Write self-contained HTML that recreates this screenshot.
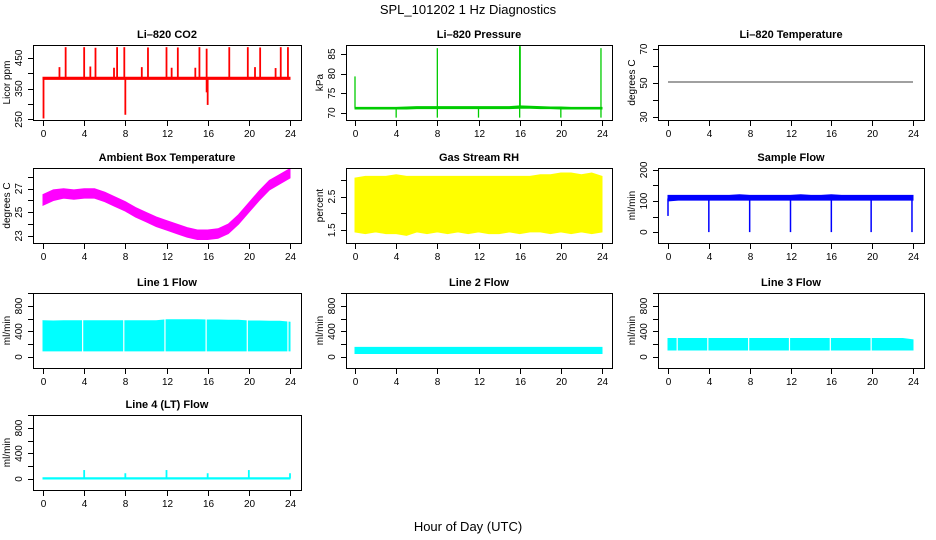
<!DOCTYPE html>
<html><head><meta charset="utf-8"><style>
html,body{margin:0;padding:0;background:#fff}
svg{display:block;font-family:"Liberation Sans",Arial,sans-serif}
</style></head><body>
<svg id="chart" width="936" height="540" viewBox="0 0 936 540">
<text x="468" y="14" font-size="13" text-anchor="middle">SPL_101202  1 Hz Diagnostics</text>
<text x="468" y="531" font-size="13" text-anchor="middle">Hour of Day (UTC)</text>
</svg>
<script>
// ---- data ----
const xTicks = [0,4,8,12,16,20,24];
const hours = [0,1,2,3,4,5,6,7,8,9,10,11,12,13,14,15,16,17,18,19,20,21,22,23,24];
// CO2
const co2Lo = [380,380,380,380,380,380,380,380,380,380,380,380,380,380,380,380,380,380,380,380,380,380,380,380,380];
const co2Hi = [387,387,387,387,387,387,387,387,387,387,387,387,387,387,387,387,387,387,387,387,387,387,387,387,387];
const co2SpikeT = [2.2,4.0,5.1,7.2,7.9,10.2,12.0,13.1,15.2,15.9,18.1,19.9,21.1,23.1,23.8,1.6,4.6,6.9,9.6,12.5,14.8,20.6,22.6,0.05,8.0,16.0,15.9];
const co2SpikeV = [485,485,483,485,485,484,485,484,485,480,485,485,484,485,485,420,422,418,420,418,418,420,417,253,265,297,338];
// Pressure
const presLo = [71.0,71.0,71.0,71.0,71.0,71.0,71.1,71.1,71.1,71.1,71.1,71.1,71.1,71.1,71.1,71.1,71.2,71.2,71.1,71.1,71.0,71.0,71.0,71.0,71.0];
const presHi = [71.4,71.4,71.4,71.4,71.4,71.5,71.6,71.6,71.6,71.6,71.6,71.6,71.6,71.6,71.6,71.6,71.8,71.7,71.6,71.5,71.5,71.4,71.4,71.4,71.4];
const presSpikeT = [0.0,8.0,16.0,16.05,23.9,4.0,8.0,12.0,16.0,20.0,23.9];
const presSpikeV = [79.3,86.5,87.0,87.0,86.5,68.8,68.8,68.8,68.8,68.8,68.8];
// Li-820 temperature
const tempVal = [50.6,50.6,50.6,50.6,50.6,50.6,50.6,50.6,50.6,50.6,50.6,50.6,50.6,50.6,50.6,50.6,50.6,50.6,50.6,50.6,50.6,50.6,50.6,50.6,50.6];
// Ambient box temperature
const ambLo = [25.6,26.0,26.2,26.1,26.2,26.2,25.9,25.5,25.1,24.6,24.2,23.8,23.5,23.2,22.9,22.7,22.7,22.8,23.2,24.0,25.0,26.0,26.9,27.4,27.9];
const ambHi = [26.5,26.9,27.0,26.9,27.0,27.0,26.7,26.3,25.9,25.4,25.0,24.6,24.3,24.0,23.7,23.5,23.5,23.6,24.0,24.8,25.8,26.8,27.7,28.2,28.7];
// Gas stream RH
const rhLo = [1.45,1.40,1.45,1.40,1.40,1.35,1.45,1.40,1.45,1.40,1.45,1.40,1.45,1.40,1.40,1.45,1.40,1.45,1.45,1.40,1.45,1.40,1.45,1.40,1.45];
const rhHi = [3.05,3.10,3.10,3.10,3.15,3.10,3.10,3.10,3.10,3.10,3.10,3.10,3.10,3.10,3.10,3.10,3.10,3.10,3.15,3.15,3.20,3.20,3.15,3.20,3.10];
// Sample flow
const sfLo = [100,103,103,103,103,103,103,103,103,103,103,103,103,103,103,103,103,103,103,103,103,103,103,103,103];
const sfHi = [118,118,118,118,118,118,118,120,118,118,118,118,118,120,118,118,120,118,118,118,118,118,118,118,118];
const sfDipT = [0.0,4.0,8.0,12.0,16.0,19.9,23.9];
const sfDipV = [52,0,0,0,0,0,0];
// Line flows
const l1Lo = [95,95,95,95,95,95,95,95,95,95,95,95,95,95,95,95,95,95,95,95,95,95,95,95,95];
const l1Hi = [570,565,570,570,570,570,570,570,570,570,570,570,585,585,585,585,580,580,575,575,565,565,560,560,545];
const l1GapT = [3.85,7.85,11.85,15.85,19.85,23.8];
const l2Lo = [55,55,55,55,55,55,55,55,55,55,55,55,55,55,55,55,55,55,55,55,55,55,55,55,55];
const l2Hi = [150,150,150,150,150,150,150,150,150,150,150,150,150,150,150,150,150,150,150,150,150,150,150,150,150];
const l3Lo = [110,110,110,110,110,110,110,110,110,110,110,110,110,110,110,110,110,110,110,110,110,110,110,110,110];
const l3Hi = [290,290,290,290,290,290,290,290,290,290,290,290,290,290,290,290,290,290,290,290,290,290,290,290,270];
const l3GapT = [0.9,3.9,7.9,11.9,15.9,19.9];
const l4Lo = [0,0,0,0,0,0,0,0,0,0,0,0,0,0,0,0,0,0,0,0,0,0,0,0,0];
const l4Hi = [20,20,20,20,20,20,20,20,20,20,20,20,20,20,20,20,20,20,20,20,20,20,20,20,20];
const l4SpikeT = [4,8,12,16,20,24];
const l4SpikeV = [140,90,140,90,140,90];

// ---- layout ----
const NS = "http://www.w3.org/2000/svg";
const svg = document.getElementById('chart');
const cols = [{bx:33,bw:268,x0:43,x24:290},{bx:346,bw:266,x0:355,x24:602},{bx:658,bw:266,x0:668,x24:913}];
const rows = [45,168,293,415];
const BH = 75;
function mk(tag, attrs, parent){const e=document.createElementNS(NS,tag);for(const k in attrs)e.setAttribute(k,attrs[k]);(parent||svg).appendChild(e);return e;}

function panel(p){
  const c=cols[p.col], top=rows[p.row];
  const g=mk('g',{});
  
  
  const X=t=>c.x0+(c.x24-c.x0)*t/24;
  const Y=v=>top+BH-(v-p.ymin)/(p.ymax-p.ymin)*BH;
  p.X=X;p.Y=Y;p.g=g;
  const cl='clip'+p.name;
  const cp=mk('clipPath',{id:cl},g);mk('rect',{x:c.bx,y:top,width:c.bw,height:BH},cp);
  const dg=mk('g',{'clip-path':'url(#'+cl+')'},g);
  
  
  p.dg=dg;
  const title=mk('text',{x:c.bx+c.bw/2,y:top-7,'font-size':11,'font-weight':'bold','text-anchor':'middle'},g);
  title.textContent=p.title;
  
  
  const box=mk('rect',{x:c.bx+0.5,y:top+0.5,width:c.bw,height:BH,fill:'none',stroke:'#000','stroke-width':1},g);
  
  
  xTicks.forEach(t=>{
    const x=Math.round(X(t))+0.5;
    mk('line',{x1:x,x2:x,y1:top+BH,y2:top+BH+6,stroke:'#000'},g);
    const tx=mk('text',{x:x,y:top+BH+17,'font-size':10,'text-anchor':'middle'},g);
    tx.textContent=t;
    
    
  });
  p.yticks.forEach(v=>{
    const y=Math.round(Y(v))+0.5;
    mk('line',{x1:c.bx-5,x2:c.bx,y1:y,y2:y,stroke:'#000'},g);
  });
  p.ylabels.forEach(v=>{
    const y=Y(v);const lx=c.bx-11;
    const tx=mk('text',{x:lx,y:y,'font-size':10,'text-anchor':'middle',transform:'rotate(-90 '+lx+' '+y+')'},g);
    tx.textContent=v;
    
    
  });
  const ly=top+BH/2, lx=c.bx-23;
  const yt=mk('text',{x:lx,y:ly,'font-size':10,'text-anchor':'middle',transform:'rotate(-90 '+lx+' '+ly+')'},g);
  yt.textContent=p.ytitle;
  
  
  return p;
}
function band(p,lo,hi,color){
  let d='M'+hours.map((h,i)=>p.X(h).toFixed(1)+','+p.Y(hi[i]).toFixed(1)).join('L');
  d+='L'+hours.slice().reverse().map((h,j)=>{const i=hours.length-1-j;return p.X(h).toFixed(1)+','+p.Y(lo[i]).toFixed(1);}).join('L')+'Z';
  const e=mk('path',{d:d,fill:color,stroke:color,'stroke-width':1},p.dg);
  
  
}
function spikes(p,ts,vs,base,color,w){
  ts.forEach((t,i)=>{
    const x=p.X(t);
    const e=mk('line',{x1:x,x2:x,y1:p.Y(base),y2:p.Y(vs[i]),stroke:color,'stroke-width':w||1.5},p.dg);
    
    
  });
}
function gaps(p,ts,color){
  ts.forEach(t=>{
    const x=p.X(t);
    const e=mk('line',{x1:x,x2:x,y1:p.Y(p.ymax),y2:p.Y(p.ymin),stroke:color,'stroke-width':1.2},p.dg);
    
    
  });
}
const lineTicks=[0,200,400,600,800,1000], lineLabels=[0,400,800];

const co2=panel({name:'co2-panel',title:'Li\u2013820 CO2',ytitle:'Licor ppm',col:0,row:0,ymin:248,ymax:492,yticks:[250,300,350,400,450],ylabels:[250,350,450]});
band(co2,co2Lo,co2Hi,'#ff0000');spikes(co2,co2SpikeT,co2SpikeV,383,'#ff0000',1.8);

const pres=panel({name:'pressure-panel',title:'Li\u2013820 Pressure',ytitle:'kPa',col:1,row:0,ymin:68.2,ymax:87.3,yticks:[70,75,80,85],ylabels:[70,75,80,85]});
band(pres,presLo,presHi,'#00cc00');spikes(pres,presSpikeT,presSpikeV,71.3,'#00cc00',1.3);

const temp=panel({name:'li820-temperature-panel',title:'Li\u2013820 Temperature',ytitle:'degrees C',col:2,row:0,ymin:28.2,ymax:72.4,yticks:[30,40,50,60,70],ylabels:[30,50,70]});
(function(){const d='M'+hours.map((h,i)=>temp.X(h).toFixed(1)+','+temp.Y(tempVal[i]).toFixed(1)).join('L');
const e=mk('path',{d:d,fill:'none',stroke:'#000','stroke-width':0.8},temp.dg);

})();

const amb=panel({name:'ambient-temperature-panel',title:'Ambient Box Temperature',ytitle:'degrees C',col:0,row:1,ymin:22.4,ymax:28.75,yticks:[23,24,25,26,27,28],ylabels:[23,25,27]});
band(amb,ambLo,ambHi,'#ff00ff');

const rh=panel({name:'rh-panel',title:'Gas Stream RH',ytitle:'percent',col:1,row:1,ymin:1.12,ymax:3.35,yticks:[1.5,2,2.5,3],ylabels:[1.5,2.5]});
band(rh,rhLo,rhHi,'#ffff00');

const sf=panel({name:'sample-flow-panel',title:'Sample Flow',ytitle:'ml/min',col:2,row:1,ymin:-35,ymax:206,yticks:[0,50,100,150,200],ylabels:[0,100,200]});
band(sf,sfLo,sfHi,'#0000ff');spikes(sf,sfDipT,sfDipV,108,'#0000ff',1.5);

const l1=panel({name:'line1-flow-panel',title:'Line 1 Flow',ytitle:'ml/min',col:0,row:2,ymin:-173,ymax:1004,yticks:lineTicks,ylabels:lineLabels});
band(l1,l1Lo,l1Hi,'#00ffff');gaps(l1,l1GapT,'#ffffff');

const l2=panel({name:'line2-flow-panel',title:'Line 2 Flow',ytitle:'ml/min',col:1,row:2,ymin:-173,ymax:1004,yticks:lineTicks,ylabels:lineLabels});
band(l2,l2Lo,l2Hi,'#00ffff');

const l3=panel({name:'line3-flow-panel',title:'Line 3 Flow',ytitle:'ml/min',col:2,row:2,ymin:-173,ymax:1004,yticks:lineTicks,ylabels:lineLabels});
band(l3,l3Lo,l3Hi,'#00ffff');gaps(l3,l3GapT,'#ffffff');

const l4=panel({name:'line4-flow-panel',title:'Line 4 (LT) Flow',ytitle:'ml/min',col:0,row:3,ymin:-173,ymax:1004,yticks:lineTicks,ylabels:lineLabels});
band(l4,l4Lo,l4Hi,'#00ffff');spikes(l4,l4SpikeT,l4SpikeV,10,'#00ffff',1.8);
</script>
</body></html>
